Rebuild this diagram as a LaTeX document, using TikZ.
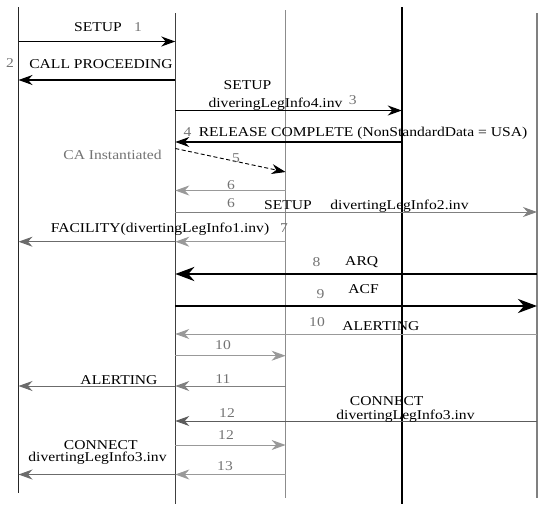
\documentclass[tikz,border=0pt]{standalone}
\usepackage{fontspec}
\setmainfont[FakeStretch=1.155]{Liberation Serif}
\usetikzlibrary{arrows.meta}
\definecolor{numgray}{gray}{0.45}
\definecolor{lifeA}{gray}{0.15}
\definecolor{lifeB}{gray}{0.25}
\definecolor{lifeC}{gray}{0.55}
\definecolor{lifeE}{gray}{0.5}
\definecolor{msgA}{gray}{0.6}
\definecolor{msgB}{gray}{0.5}
\definecolor{msgC}{gray}{0.42}
\definecolor{msgD}{gray}{0.36}
\begin{document}
\begin{tikzpicture}[x=1pt,y=-1pt,
  lifeline/.style={line width=1.4pt},
  msg/.style={line width=1.2pt,-{Stealth[length=14pt,width=10pt,inset=4.5pt]}},
  gmsg/.style={line width=1pt,-{Stealth[length=14pt,width=10pt,inset=4.5pt]}},
  bigmsg/.style={line width=2.8pt,-{Stealth[length=19pt,width=14pt,inset=6pt]}},
  lbl/.style={font=\fontsize{13.5}{15}\selectfont,inner sep=0pt,anchor=base},
  num/.style={lbl,text=numgray},
]
\useasboundingbox (0,0) rectangle (538,504);

% lifelines
\coordinate (A0) at (18.5,7);   \coordinate (A1) at (18.5,493);
\coordinate (B0) at (175.3,13); \coordinate (B1) at (175.3,504);
\coordinate (C0) at (285.6,10); \coordinate (C1) at (285.6,498);
\coordinate (D0) at (401.8,7);  \coordinate (D1) at (401.8,504);
\coordinate (E0) at (537,13);   \coordinate (E1) at (537,498);
\draw[lifeline,lifeA] (A0) -- (A1);
\draw[lifeline,lifeB] (B0) -- (B1);
\draw[line width=1.1pt,lifeC] (C0) -- (C1);
\draw[lifeline,black] (D0) -- (D1);
\draw[line width=1.2pt,lifeE] (E0) -- (E1);

% message levels
\coordinate (y1) at (0,41.5);
\coordinate (y2) at (0,80);
\coordinate (y3) at (0,110.5);
\coordinate (y4) at (0,142);
\coordinate (y5a) at (0,148.5);
\coordinate (y5b) at (0,172);
\coordinate (y6) at (0,190.5);
\coordinate (y6b) at (0,212);
\coordinate (y7) at (0,241.7);
\coordinate (y8) at (0,274);
\coordinate (y9) at (0,306);
\coordinate (y10) at (0,334);
\coordinate (y10b) at (0,355.7);
\coordinate (y11) at (0,386);
\coordinate (y12) at (0,421);
\coordinate (y12b) at (0,445);
\coordinate (y13) at (0,474.5);

% messages
\draw[msg] (A0 |- y1) -- (B0 |- y1);
\draw[msg] (B0 |- y2) -- (A0 |- y2);
\draw[msg] (B0 |- y3) -- (D0 |- y3);
\draw[msg] (D0 |- y4) -- (B0 |- y4);
\draw[msg,line width=0.9pt,dash pattern=on 4pt off 2.5pt] (B0 |- y5a) -- (C0 |- y5b);
\draw[gmsg,msgA] (C0 |- y6) -- (B0 |- y6);
\draw[gmsg,msgB] (B0 |- y6b) -- (E0 |- y6b);
\draw[gmsg,msgA] (C0 |- y7) -- (B0 |- y7);
\draw[gmsg,msgC] (B0 |- y7) -- (A0 |- y7);
\draw[bigmsg] (E0 |- y8) -- (B0 |- y8);
\draw[bigmsg] (B0 |- y9) -- (E0 |- y9);
\draw[gmsg,msgA] (E0 |- y10) -- (B0 |- y10);
\draw[gmsg,msgA] (B0 |- y10b) -- (C0 |- y10b);
\draw[gmsg,msgB] (C0 |- y11) -- (B0 |- y11);
\draw[gmsg,msgC] (B0 |- y11) -- (A0 |- y11);
\draw[gmsg,msgD] (E0 |- y12) -- (B0 |- y12);
\draw[gmsg,msgA] (B0 |- y12b) -- (C0 |- y12b);
\draw[gmsg,msgA] (C0 |- y13) -- (B0 |- y13);
\draw[gmsg,msgC] (B0 |- y13) -- (A0 |- y13);

% labels
\node[lbl] (t1) at (98,31) {SETUP};
\node[num] (n1) at (138,31) {1};
\node[lbl] (t2) at (101,68) {CALL PROCEEDING};
\node[num] (n2) at (10,67) {2};
\node[lbl] (t3a) at (247.5,89.3) {SETUP};
\node[lbl] (t3b) at (275.5,107) {diveringLegInfo4.inv};
\node[num] (n3) at (352.7,104) {3};
\node[num] (n4) at (187.5,136) {4};
\node[lbl] (t4) at (363,136) {RELEASE COMPLETE (NonStandardData = USA)};
\node[num] (n5) at (236,162) {5};
\node[lbl,text=numgray] (ca) at (112.5,159) {CA Instantiated};
\node[num] (n6) at (231,189.5) {6};
\node[num] (n6b) at (231,207) {6};
\node[lbl] (t6a) at (288,209.5) {SETUP};
\node[lbl] (t6b) at (399.5,209.5) {divertingLegInfo2.inv};
\node[lbl] (t7) at (160,232.5) {FACILITY(divertingLegInfo1.inv)};
\node[num] (n7) at (284,232.5) {7};
\node[num] (n8) at (316.5,266) {8};
\node[lbl] (t8) at (361.7,265) {ARQ};
\node[num] (n9) at (320.5,298) {9};
\node[lbl] (t9) at (363.6,293) {ACF};
\node[num] (n10) at (317,326) {10};
\node[lbl] (t10) at (380.8,330) {ALERTING};
\node[num] (n10b) at (223,349.3) {10};
\node[num] (n11) at (223,383.3) {11};
\node[lbl] (t11) at (119,384) {ALERTING};
\node[num] (n12) at (227,417) {12};
\node[lbl] (t12a) at (386.7,405) {CONNECT};
\node[lbl] (t12b) at (405.5,419.3) {divertingLegInfo3.inv};
\node[num] (n12b) at (226,439.3) {12};
\node[lbl] (t13a) at (100.8,449.3) {CONNECT};
\node[lbl] (t13b) at (97.5,461.7) {divertingLegInfo3.inv};
\node[num] (n13) at (225,470) {13};
\end{tikzpicture}
\end{document}
